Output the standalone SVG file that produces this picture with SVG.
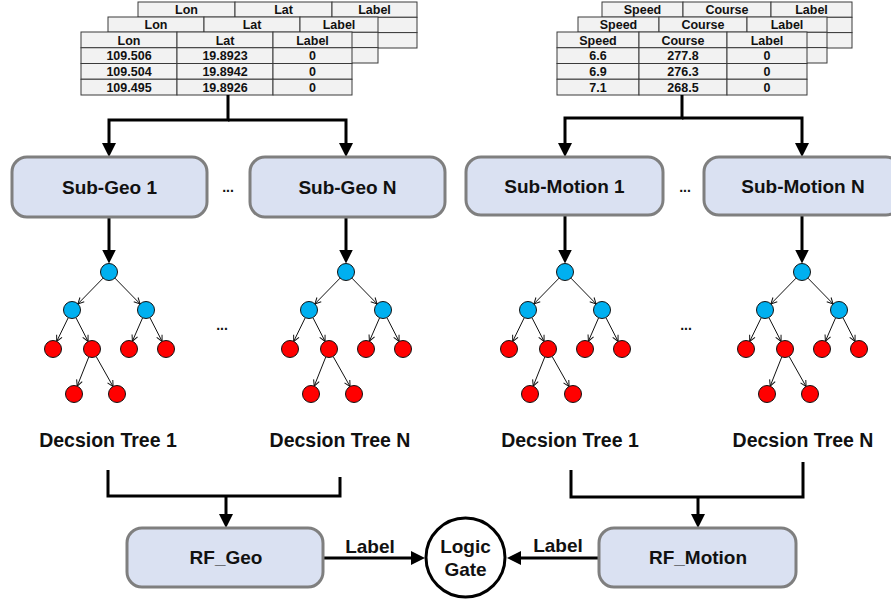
<svg xmlns="http://www.w3.org/2000/svg" width="891" height="602" viewBox="0 0 891 602">
<style>
.cell{fill:#f2f2f2;stroke:#3a3a3a;stroke-width:1}
.tt{font-family:"Liberation Sans",Arial,sans-serif;font-weight:bold;font-size:12.5px;fill:#111;text-anchor:middle}
.box{fill:#dae1f2;stroke:#7f7f7f;stroke-width:3}
.bt{font-family:"Liberation Sans",Arial,sans-serif;font-weight:bold;font-size:19px;fill:#111;text-anchor:middle}
.lt{font-family:"Liberation Sans",Arial,sans-serif;font-weight:bold;font-size:19.5px;fill:#111;text-anchor:middle}
.conn{fill:none;stroke:#000;stroke-width:3}
.thin{fill:none;stroke:#111;stroke-width:1}
.blue{fill:#00b0f0;stroke:#111;stroke-width:1}
.red{fill:#ff0000;stroke:#111;stroke-width:1}
.dots{font-family:"Liberation Sans",Arial,sans-serif;font-weight:bold;font-size:14px;fill:#111;text-anchor:middle}
</style>
<defs>
<marker id="ah" viewBox="0 0 14 14" markerWidth="14" markerHeight="14" refX="4" refY="7" orient="auto" markerUnits="userSpaceOnUse">
<path d="M0,0 L14,7 L0,14 z" fill="#000"/>
</marker>
<marker id="sa" viewBox="0 0 8 8" markerWidth="8" markerHeight="8" refX="7" refY="4" orient="auto" markerUnits="userSpaceOnUse">
<path d="M1,1 L7,4 L1,7" fill="none" stroke="#111" stroke-width="1"/>
</marker>
</defs>

<!-- Geo tables -->
<g id="table-geo-back">
<rect class="cell" x="138" y="2" width="97" height="15.3"/><rect class="cell" x="235" y="2" width="97" height="15.3"/><rect class="cell" x="332" y="2" width="85" height="15.3"/>
<rect class="cell" x="138" y="17.3" width="97" height="15.3"/><rect class="cell" x="235" y="17.3" width="97" height="15.3"/><rect class="cell" x="332" y="17.3" width="85" height="15.3"/>
<rect class="cell" x="138" y="32.6" width="97" height="15.4"/><rect class="cell" x="235" y="32.6" width="97" height="15.4"/><rect class="cell" x="332" y="32.6" width="85" height="15.4"/>
<text class="tt" x="186.5" y="14">Lon</text><text class="tt" x="283.5" y="14">Lat</text><text class="tt" x="374.5" y="14">Label</text>
</g>
<g id="table-geo-mid">
<rect class="cell" x="108" y="17" width="96" height="15.3"/><rect class="cell" x="204" y="17" width="96" height="15.3"/><rect class="cell" x="300" y="17" width="78" height="15.3"/>
<rect class="cell" x="108" y="32.3" width="96" height="15.3"/><rect class="cell" x="204" y="32.3" width="96" height="15.3"/><rect class="cell" x="300" y="32.3" width="78" height="15.3"/>
<rect class="cell" x="108" y="47.6" width="96" height="15.4"/><rect class="cell" x="204" y="47.6" width="96" height="15.4"/><rect class="cell" x="300" y="47.6" width="78" height="15.4"/>
<text class="tt" x="156" y="29">Lon</text><text class="tt" x="252" y="29">Lat</text><text class="tt" x="339" y="29">Label</text>
</g>
<g id="table-geo-front">
<rect class="cell" x="81" y="32" width="96" height="15.75"/><rect class="cell" x="177" y="32" width="96" height="15.75"/><rect class="cell" x="273" y="32" width="79" height="15.75"/>
<rect class="cell" x="81" y="47.75" width="96" height="15.75"/><rect class="cell" x="177" y="47.75" width="96" height="15.75"/><rect class="cell" x="273" y="47.75" width="79" height="15.75"/>
<rect class="cell" x="81" y="63.5" width="96" height="15.75"/><rect class="cell" x="177" y="63.5" width="96" height="15.75"/><rect class="cell" x="273" y="63.5" width="79" height="15.75"/>
<rect class="cell" x="81" y="79.25" width="96" height="15.75"/><rect class="cell" x="177" y="79.25" width="96" height="15.75"/><rect class="cell" x="273" y="79.25" width="79" height="15.75"/>
<text class="tt" x="129" y="44.5">Lon</text><text class="tt" x="225" y="44.5">Lat</text><text class="tt" x="312.5" y="44.5">Label</text>
<text class="tt" x="129" y="60">109.506</text><text class="tt" x="225" y="60">19.8923</text><text class="tt" x="312.5" y="60">0</text>
<text class="tt" x="129" y="76">109.504</text><text class="tt" x="225" y="76">19.8942</text><text class="tt" x="312.5" y="76">0</text>
<text class="tt" x="129" y="91.5">109.495</text><text class="tt" x="225" y="91.5">19.8926</text><text class="tt" x="312.5" y="91.5">0</text>
</g>

<!-- Motion tables -->
<g id="table-motion-back">
<rect class="cell" x="602" y="2" width="81" height="15.3"/><rect class="cell" x="683" y="2" width="88" height="15.3"/><rect class="cell" x="771" y="2" width="81" height="15.3"/>
<rect class="cell" x="602" y="17.3" width="81" height="15.3"/><rect class="cell" x="683" y="17.3" width="88" height="15.3"/><rect class="cell" x="771" y="17.3" width="81" height="15.3"/>
<rect class="cell" x="602" y="32.6" width="81" height="15.4"/><rect class="cell" x="683" y="32.6" width="88" height="15.4"/><rect class="cell" x="771" y="32.6" width="81" height="15.4"/>
<text class="tt" x="642.5" y="14">Speed</text><text class="tt" x="727" y="14">Course</text><text class="tt" x="811.5" y="14">Label</text>
</g>
<g id="table-motion-mid">
<rect class="cell" x="578" y="17" width="81" height="15.3"/><rect class="cell" x="659" y="17" width="88" height="15.3"/><rect class="cell" x="747" y="17" width="80" height="15.3"/>
<rect class="cell" x="578" y="32.3" width="81" height="15.3"/><rect class="cell" x="659" y="32.3" width="88" height="15.3"/><rect class="cell" x="747" y="32.3" width="80" height="15.3"/>
<rect class="cell" x="578" y="47.6" width="81" height="15.4"/><rect class="cell" x="659" y="47.6" width="88" height="15.4"/><rect class="cell" x="747" y="47.6" width="80" height="15.4"/>
<text class="tt" x="618.5" y="29">Speed</text><text class="tt" x="703" y="29">Course</text><text class="tt" x="787" y="29">Label</text>
</g>
<g id="table-motion-front">
<rect class="cell" x="557" y="32" width="82" height="15.75"/><rect class="cell" x="639" y="32" width="88" height="15.75"/><rect class="cell" x="727" y="32" width="80" height="15.75"/>
<rect class="cell" x="557" y="47.75" width="82" height="15.75"/><rect class="cell" x="639" y="47.75" width="88" height="15.75"/><rect class="cell" x="727" y="47.75" width="80" height="15.75"/>
<rect class="cell" x="557" y="63.5" width="82" height="15.75"/><rect class="cell" x="639" y="63.5" width="88" height="15.75"/><rect class="cell" x="727" y="63.5" width="80" height="15.75"/>
<rect class="cell" x="557" y="79.25" width="82" height="15.75"/><rect class="cell" x="639" y="79.25" width="88" height="15.75"/><rect class="cell" x="727" y="79.25" width="80" height="15.75"/>
<text class="tt" x="598" y="44.5">Speed</text><text class="tt" x="683" y="44.5">Course</text><text class="tt" x="767" y="44.5">Label</text>
<text class="tt" x="598" y="60">6.6</text><text class="tt" x="683" y="60">277.8</text><text class="tt" x="767" y="60">0</text>
<text class="tt" x="598" y="76">6.9</text><text class="tt" x="683" y="76">276.3</text><text class="tt" x="767" y="76">0</text>
<text class="tt" x="598" y="91.5">7.1</text><text class="tt" x="683" y="91.5">268.5</text><text class="tt" x="767" y="91.5">0</text>
</g>

<!-- Connectors -->
<g id="connectors">
<path class="conn" d="M228,95 V120 H109 V147" marker-end="url(#ah)"/>
<path class="conn" d="M228,120 H346 V147" marker-end="url(#ah)"/>
<path class="conn" d="M682,95 V118 H565 V147" marker-end="url(#ah)"/>
<path class="conn" d="M682,118 H802 V147" marker-end="url(#ah)"/>
<path class="conn" d="M109,217 V253.5" marker-end="url(#ah)"/>
<path class="conn" d="M346,217 V253.5" marker-end="url(#ah)"/>
<path class="conn" d="M565,215 V253.5" marker-end="url(#ah)"/>
<path class="conn" d="M802,215 V253.5" marker-end="url(#ah)"/>
<path class="conn" d="M108,470 V496 H340 V477"/>
<path class="conn" d="M226,496 V518" marker-end="url(#ah)"/>
<path class="conn" d="M571,470 V497 H803 V462"/>
<path class="conn" d="M698,497 V518" marker-end="url(#ah)"/>
<path class="conn" d="M323,558 H415" marker-end="url(#ah)"/>
<path class="conn" d="M599,558 H517" marker-end="url(#ah)"/>
<text class="bt" x="370" y="553">Label</text>
<text class="bt" x="558" y="552">Label</text>
</g>

<!-- Sub boxes -->
<g id="sub-geo-1"><rect class="box" x="12" y="157" width="195" height="60" rx="15"/><text class="bt" x="109.5" y="193.5">Sub-Geo 1</text></g>
<g id="sub-geo-n"><rect class="box" x="250" y="157" width="195" height="60" rx="15"/><text class="bt" x="347.5" y="193.5">Sub-Geo N</text></g>
<g id="sub-motion-1"><rect class="box" x="466" y="157" width="197" height="58" rx="15"/><text class="bt" x="564.5" y="192.5">Sub-Motion 1</text></g>
<g id="sub-motion-n"><rect class="box" x="704" y="157" width="197" height="58" rx="15"/><text class="bt" x="803" y="192.5">Sub-Motion N</text></g>
<text class="dots" x="228" y="192">...</text>
<text class="dots" x="685" y="192">...</text>
<text class="dots" x="222" y="330">...</text>
<text class="dots" x="686" y="330">...</text>

<!-- Trees -->
<g id="tree-geo-1" transform="translate(109,272)">
<path class="thin" d="M-5.9,6.1 L-31.1,31.9" marker-end="url(#sa)"/>
<path class="thin" d="M5.9,6.1 L31.1,31.9" marker-end="url(#sa)"/>
<path class="thin" d="M-40.7,45.6 L-52.3,69.4" marker-end="url(#sa)"/>
<path class="thin" d="M-33.1,45.6 L-20.9,69.4" marker-end="url(#sa)"/>
<path class="thin" d="M33.6,45.8 L23.4,69.2" marker-end="url(#sa)"/>
<path class="thin" d="M40.9,45.6 L53.1,69.4" marker-end="url(#sa)"/>
<path class="thin" d="M-20.2,84.9 L-31.8,114.1" marker-end="url(#sa)"/>
<path class="thin" d="M-12.9,84.4 L4.1,114.6" marker-end="url(#sa)"/>
<circle class="blue" cx="0" cy="0" r="8.5"/><circle class="blue" cx="-37" cy="38" r="8.5"/><circle class="blue" cx="37" cy="38" r="8.5"/>
<circle class="red" cx="-56" cy="77" r="8.5"/><circle class="red" cx="-17" cy="77" r="8.5"/><circle class="red" cx="20" cy="77" r="8.5"/><circle class="red" cx="57" cy="77" r="8.5"/>
<circle class="red" cx="-35" cy="122" r="8.5"/><circle class="red" cx="8" cy="122" r="8.5"/>
</g>
<g id="tree-geo-n" transform="translate(346,272)">
<path class="thin" d="M-5.9,6.1 L-31.1,31.9" marker-end="url(#sa)"/>
<path class="thin" d="M5.9,6.1 L31.1,31.9" marker-end="url(#sa)"/>
<path class="thin" d="M-40.7,45.6 L-52.3,69.4" marker-end="url(#sa)"/>
<path class="thin" d="M-33.1,45.6 L-20.9,69.4" marker-end="url(#sa)"/>
<path class="thin" d="M33.6,45.8 L23.4,69.2" marker-end="url(#sa)"/>
<path class="thin" d="M40.9,45.6 L53.1,69.4" marker-end="url(#sa)"/>
<path class="thin" d="M-20.2,84.9 L-31.8,114.1" marker-end="url(#sa)"/>
<path class="thin" d="M-12.9,84.4 L4.1,114.6" marker-end="url(#sa)"/>
<circle class="blue" cx="0" cy="0" r="8.5"/><circle class="blue" cx="-37" cy="38" r="8.5"/><circle class="blue" cx="37" cy="38" r="8.5"/>
<circle class="red" cx="-56" cy="77" r="8.5"/><circle class="red" cx="-17" cy="77" r="8.5"/><circle class="red" cx="20" cy="77" r="8.5"/><circle class="red" cx="57" cy="77" r="8.5"/>
<circle class="red" cx="-35" cy="122" r="8.5"/><circle class="red" cx="8" cy="122" r="8.5"/>
</g>
<g id="tree-motion-1" transform="translate(565,272)">
<path class="thin" d="M-5.9,6.1 L-31.1,31.9" marker-end="url(#sa)"/>
<path class="thin" d="M5.9,6.1 L31.1,31.9" marker-end="url(#sa)"/>
<path class="thin" d="M-40.7,45.6 L-52.3,69.4" marker-end="url(#sa)"/>
<path class="thin" d="M-33.1,45.6 L-20.9,69.4" marker-end="url(#sa)"/>
<path class="thin" d="M33.6,45.8 L23.4,69.2" marker-end="url(#sa)"/>
<path class="thin" d="M40.9,45.6 L53.1,69.4" marker-end="url(#sa)"/>
<path class="thin" d="M-20.2,84.9 L-31.8,114.1" marker-end="url(#sa)"/>
<path class="thin" d="M-12.9,84.4 L4.1,114.6" marker-end="url(#sa)"/>
<circle class="blue" cx="0" cy="0" r="8.5"/><circle class="blue" cx="-37" cy="38" r="8.5"/><circle class="blue" cx="37" cy="38" r="8.5"/>
<circle class="red" cx="-56" cy="77" r="8.5"/><circle class="red" cx="-17" cy="77" r="8.5"/><circle class="red" cx="20" cy="77" r="8.5"/><circle class="red" cx="57" cy="77" r="8.5"/>
<circle class="red" cx="-35" cy="122" r="8.5"/><circle class="red" cx="8" cy="122" r="8.5"/>
</g>
<g id="tree-motion-n" transform="translate(802,272)">
<path class="thin" d="M-5.9,6.1 L-31.1,31.9" marker-end="url(#sa)"/>
<path class="thin" d="M5.9,6.1 L31.1,31.9" marker-end="url(#sa)"/>
<path class="thin" d="M-40.7,45.6 L-52.3,69.4" marker-end="url(#sa)"/>
<path class="thin" d="M-33.1,45.6 L-20.9,69.4" marker-end="url(#sa)"/>
<path class="thin" d="M33.6,45.8 L23.4,69.2" marker-end="url(#sa)"/>
<path class="thin" d="M40.9,45.6 L53.1,69.4" marker-end="url(#sa)"/>
<path class="thin" d="M-20.2,84.9 L-31.8,114.1" marker-end="url(#sa)"/>
<path class="thin" d="M-12.9,84.4 L4.1,114.6" marker-end="url(#sa)"/>
<circle class="blue" cx="0" cy="0" r="8.5"/><circle class="blue" cx="-37" cy="38" r="8.5"/><circle class="blue" cx="37" cy="38" r="8.5"/>
<circle class="red" cx="-56" cy="77" r="8.5"/><circle class="red" cx="-17" cy="77" r="8.5"/><circle class="red" cx="20" cy="77" r="8.5"/><circle class="red" cx="57" cy="77" r="8.5"/>
<circle class="red" cx="-35" cy="122" r="8.5"/><circle class="red" cx="8" cy="122" r="8.5"/>
</g>

<!-- Tree labels -->
<g id="label-geo-1"><text class="lt" x="108" y="447">Decsion Tree 1</text></g>
<g id="label-geo-n"><text class="lt" x="340" y="447">Decsion Tree N</text></g>
<g id="label-motion-1"><text class="lt" x="570" y="447">Decsion Tree 1</text></g>
<g id="label-motion-n"><text class="lt" x="803" y="447">Decsion Tree N</text></g>

<!-- RF boxes -->
<g id="rf-geo"><rect class="box" x="127" y="528" width="196" height="59" rx="15"/><text class="bt" x="226" y="564">RF_Geo</text></g>
<g id="rf-motion"><rect class="box" x="599" y="528" width="197" height="59" rx="15"/><text class="bt" x="698" y="564">RF_Motion</text></g>

<!-- Logic gate -->
<g id="logic-gate">
<circle cx="465.5" cy="557.5" r="39.5" fill="#fff" stroke="#000" stroke-width="3"/>
<text class="bt" x="465.5" y="553">Logic</text>
<text class="bt" x="465.5" y="576">Gate</text>
</g>
</svg>
